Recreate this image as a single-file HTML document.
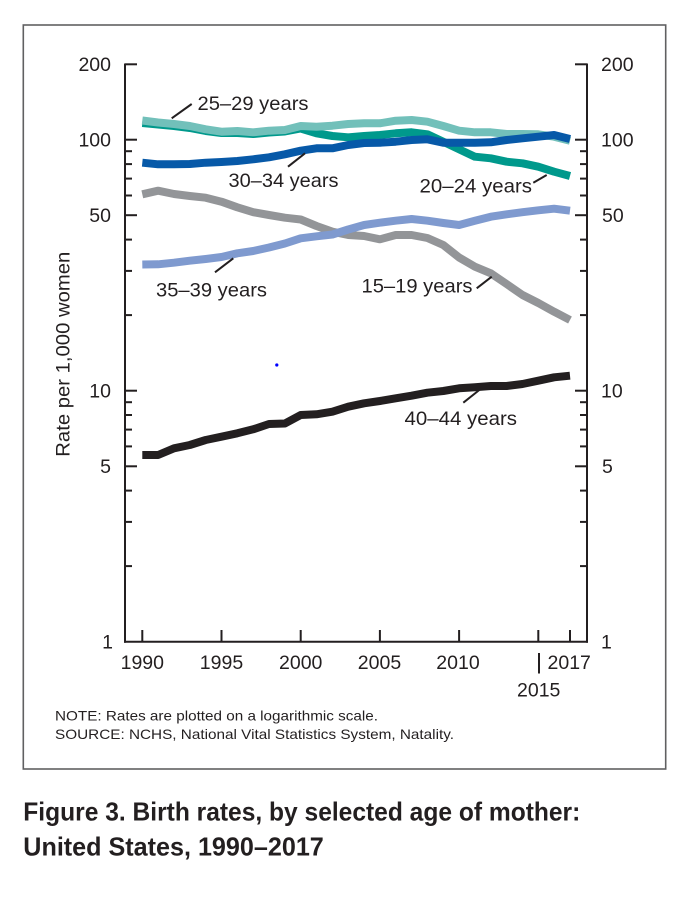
<!DOCTYPE html>
<html>
<head>
<meta charset="utf-8">
<style>
html,body{margin:0;padding:0;background:#fff;}
svg{display:block;}
text{font-family:"Liberation Sans",Arial,sans-serif;fill:#231f20;}
</style>
</head>
<body>
<svg width="700" height="909" viewBox="0 0 700 909" xmlns="http://www.w3.org/2000/svg">
<rect x="0" y="0" width="700" height="909" fill="#fff"/>
<!-- outer box -->
<rect x="23.3" y="25" width="642.4" height="744" fill="none" stroke="#606062" stroke-width="1.6"/>

<!-- axes -->
<g stroke="#231f20" stroke-width="2" fill="none">
  <line x1="125" y1="63.5" x2="125" y2="642.7"/>
  <line x1="587" y1="63.5" x2="587" y2="642.7"/>
  <line x1="124" y1="641.7" x2="588" y2="641.7"/>
  <!-- left major ticks -->
  <line x1="125" y1="64.3" x2="137" y2="64.3"/>
  <line x1="125" y1="139.7" x2="137" y2="139.7"/>
  <line x1="125" y1="215.2" x2="137" y2="215.2"/>
  <line x1="125" y1="390.7" x2="137" y2="390.7"/>
  <line x1="125" y1="466.3" x2="137" y2="466.3"/>
  <!-- left minor ticks -->
  <line x1="125" y1="151.2" x2="132" y2="151.2"/>
  <line x1="125" y1="164.1" x2="132" y2="164.1"/>
  <line x1="125" y1="178.6" x2="132" y2="178.6"/>
  <line x1="125" y1="195.5" x2="132" y2="195.5"/>
  <line x1="125" y1="239.6" x2="132" y2="239.6"/>
  <line x1="125" y1="270.9" x2="132" y2="270.9"/>
  <line x1="125" y1="315.1" x2="132" y2="315.1"/>
  <line x1="125" y1="402.2" x2="132" y2="402.2"/>
  <line x1="125" y1="415.0" x2="132" y2="415.0"/>
  <line x1="125" y1="429.6" x2="132" y2="429.6"/>
  <line x1="125" y1="446.4" x2="132" y2="446.4"/>
  <line x1="125" y1="490.6" x2="132" y2="490.6"/>
  <line x1="125" y1="521.9" x2="132" y2="521.9"/>
  <line x1="125" y1="566.1" x2="132" y2="566.1"/>
  <!-- right major ticks -->
  <line x1="575" y1="64.3" x2="587" y2="64.3"/>
  <line x1="575" y1="139.7" x2="587" y2="139.7"/>
  <line x1="575" y1="215.2" x2="587" y2="215.2"/>
  <line x1="575" y1="390.7" x2="587" y2="390.7"/>
  <line x1="575" y1="466.3" x2="587" y2="466.3"/>
  <!-- right minor ticks -->
  <line x1="580" y1="151.2" x2="587" y2="151.2"/>
  <line x1="580" y1="164.1" x2="587" y2="164.1"/>
  <line x1="580" y1="178.6" x2="587" y2="178.6"/>
  <line x1="580" y1="195.5" x2="587" y2="195.5"/>
  <line x1="580" y1="239.6" x2="587" y2="239.6"/>
  <line x1="580" y1="270.9" x2="587" y2="270.9"/>
  <line x1="580" y1="315.1" x2="587" y2="315.1"/>
  <line x1="580" y1="402.2" x2="587" y2="402.2"/>
  <line x1="580" y1="415.0" x2="587" y2="415.0"/>
  <line x1="580" y1="429.6" x2="587" y2="429.6"/>
  <line x1="580" y1="446.4" x2="587" y2="446.4"/>
  <line x1="580" y1="490.6" x2="587" y2="490.6"/>
  <line x1="580" y1="521.9" x2="587" y2="521.9"/>
  <line x1="580" y1="566.1" x2="587" y2="566.1"/>
  <!-- x ticks -->
  <line x1="142.3" y1="630" x2="142.3" y2="641.7"/>
  <line x1="221.5" y1="630" x2="221.5" y2="641.7"/>
  <line x1="300.7" y1="630" x2="300.7" y2="641.7"/>
  <line x1="379.9" y1="630" x2="379.9" y2="641.7"/>
  <line x1="459.1" y1="630" x2="459.1" y2="641.7"/>
  <line x1="538.3" y1="630" x2="538.3" y2="641.7"/>
  <line x1="570.0" y1="630" x2="570.0" y2="641.7"/>
  <!-- 2015 bar -->
  <line x1="539" y1="653" x2="539" y2="673.5"/>
</g>

<!-- tick labels -->
<g font-size="19.5">
  <text x="111" y="71" text-anchor="end">200</text>
  <text x="111" y="146.5" text-anchor="end">100</text>
  <text x="111" y="222" text-anchor="end">50</text>
  <text x="111" y="397.5" text-anchor="end">10</text>
  <text x="111" y="473" text-anchor="end">5</text>
  <text x="113" y="648.3" text-anchor="end">1</text>

  <text x="601" y="71">200</text>
  <text x="601" y="146.5">100</text>
  <text x="602" y="222">50</text>
  <text x="601" y="397.5">10</text>
  <text x="602" y="473">5</text>
  <text x="601" y="648.3">1</text>

  <text x="142.3" y="669" text-anchor="middle">1990</text>
  <text x="221.5" y="669" text-anchor="middle">1995</text>
  <text x="300.7" y="669" text-anchor="middle">2000</text>
  <text x="379.5" y="669" text-anchor="middle">2005</text>
  <text x="458" y="669" text-anchor="middle">2010</text>
  <text x="547.5" y="669">2017</text>
  <text x="538.7" y="696.5" text-anchor="middle">2015</text>
</g>

<!-- y axis title -->
<text font-size="19.5" transform="translate(69.3,354.2) rotate(-90)" text-anchor="middle" textLength="205" lengthAdjust="spacingAndGlyphs">Rate per 1,000 women</text>

<!-- series -->
<g fill="none" stroke-width="8" stroke-linecap="butt" stroke-linejoin="round">
  <!-- 20-24 -->
  <polyline stroke="#00998c" points="142.3,123 158.1,124.5 174.0,126 189.8,128 205.7,131 221.5,133 237.3,133 253.2,134 269.0,132.5 284.9,131.5 300.7,128.5 316.5,133.3 332.4,136 348.2,137.3 364.1,136 379.9,135 395.7,133.3 411.6,132.3 427.4,134.3 443.3,141.7 459.1,149.3 474.9,156.7 490.8,158.3 506.6,161.7 522.5,163.3 538.3,166.7 554.1,171.7 570.0,176"/>
  <!-- 25-29 -->
  <polyline stroke="#72c0ba" points="142.3,120.5 158.1,122.5 174.0,124 189.8,126 205.7,129.3 221.5,131.7 237.3,131 253.2,132.3 269.0,130.7 284.9,130 300.7,126 316.5,126.7 332.4,125.7 348.2,124 364.1,123.3 379.9,123.3 395.7,120.7 411.6,120 427.4,121.7 443.3,126 459.1,130.7 474.9,132.3 490.8,132.3 506.6,134 522.5,134 538.3,134.3 554.1,136.7 570.0,140.7"/>
  <!-- 30-34 -->
  <polyline stroke="#0759a8" points="142.3,162.7 158.1,164.3 174.0,164.3 189.8,164 205.7,162.7 221.5,162 237.3,161 253.2,159.3 269.0,157.3 284.9,154.3 300.7,150.7 316.5,148.3 332.4,148.3 348.2,145 364.1,143 379.9,142.7 395.7,141.7 411.6,140 427.4,139.3 443.3,142.7 459.1,142.7 474.9,142.7 490.8,142.3 506.6,140 522.5,138.3 538.3,136.7 554.1,135 570.0,139"/>
  <!-- 15-19 -->
  <polyline stroke="#939598" points="142.3,194.3 158.1,190.7 174.0,194 189.8,196 205.7,197.7 221.5,201.7 237.3,207.3 253.2,212.2 269.0,215 284.9,217.7 300.7,219.5 316.5,226 332.4,231.7 348.2,235 364.1,236 379.9,239.3 395.7,235 411.6,235 427.4,238 443.3,245 459.1,257.5 474.9,266.7 490.8,273.3 506.6,284 522.5,295 538.3,303 554.1,311.7 570.0,320"/>
  <!-- 35-39 -->
  <polyline stroke="#7f9acf" points="142.3,264.5 158.1,264.3 174.0,262.7 189.8,260.7 205.7,259 221.5,257 237.3,253.3 253.2,251 269.0,247.5 284.9,243.5 300.7,238.3 316.5,236.3 332.4,234.5 348.2,229.5 364.1,225 379.9,222.7 395.7,220.7 411.6,219 427.4,220.7 443.3,223 459.1,225 474.9,220.8 490.8,216.7 506.6,214.3 522.5,212.2 538.3,210.3 554.1,208.7 570.0,210.7"/>
  <!-- 40-44 -->
  <polyline stroke="#231f20" points="142.3,455 158.1,455 174.0,448.3 189.8,445 205.7,440 221.5,436.7 237.3,433.3 253.2,429.3 269.0,424 284.9,423.5 300.7,415 316.5,414.3 332.4,411.7 348.2,406.7 364.1,403.3 379.9,401 395.7,398.3 411.6,395.7 427.4,392.7 443.3,391 459.1,388.3 474.9,387.3 490.8,386 506.6,386 522.5,384 538.3,380.7 554.1,377.3 570.0,375.7"/>
</g>

<!-- leader lines -->
<g stroke="#231f20" stroke-width="2">
  <line x1="171.7" y1="118.3" x2="191.7" y2="104"/>
  <line x1="288" y1="166.7" x2="305" y2="153.3"/>
  <line x1="215" y1="272.3" x2="233.3" y2="258.3"/>
  <line x1="533.3" y1="182.7" x2="546.7" y2="175"/>
  <line x1="476.7" y1="288.3" x2="491.7" y2="276.7"/>
  <line x1="463.3" y1="402.7" x2="479.3" y2="390"/>
</g>

<!-- series labels -->
<g font-size="19.5">
  <text x="197.5" y="110" textLength="111" lengthAdjust="spacingAndGlyphs">25–29 years</text>
  <text x="228.5" y="187" textLength="110" lengthAdjust="spacingAndGlyphs">30–34 years</text>
  <text x="156" y="296.5" textLength="111" lengthAdjust="spacingAndGlyphs">35–39 years</text>
  <text x="419.5" y="192.3" textLength="112.5" lengthAdjust="spacingAndGlyphs">20–24 years</text>
  <text x="361.5" y="292.7" textLength="111" lengthAdjust="spacingAndGlyphs">15–19 years</text>
  <text x="404.5" y="425" textLength="112.5" lengthAdjust="spacingAndGlyphs">40–44 years</text>
</g>

<!-- stray blue dot -->
<circle cx="276.8" cy="365" r="1.6" fill="#0000ff"/>

<!-- notes -->
<text x="55" y="720.7" font-size="14" textLength="323" lengthAdjust="spacingAndGlyphs">NOTE: Rates are plotted on a logarithmic scale.</text>
<text x="55" y="739" font-size="14" textLength="399" lengthAdjust="spacingAndGlyphs">SOURCE: NCHS, National Vital Statistics System, Natality.</text>

<!-- caption -->
<g font-family="'Liberation Sans Narrow','Liberation Sans',Arial,sans-serif" font-weight="bold" font-size="26">
  <text x="23.3" y="820.7" textLength="557" lengthAdjust="spacingAndGlyphs" style="font-family:'Liberation Sans Narrow','Liberation Sans',Arial,sans-serif">Figure 3. Birth rates, by selected age of mother:</text>
  <text x="23.3" y="855.7" textLength="300.5" lengthAdjust="spacingAndGlyphs" style="font-family:'Liberation Sans Narrow','Liberation Sans',Arial,sans-serif">United States, 1990–2017</text>
</g>
</svg>
</body>
</html>
